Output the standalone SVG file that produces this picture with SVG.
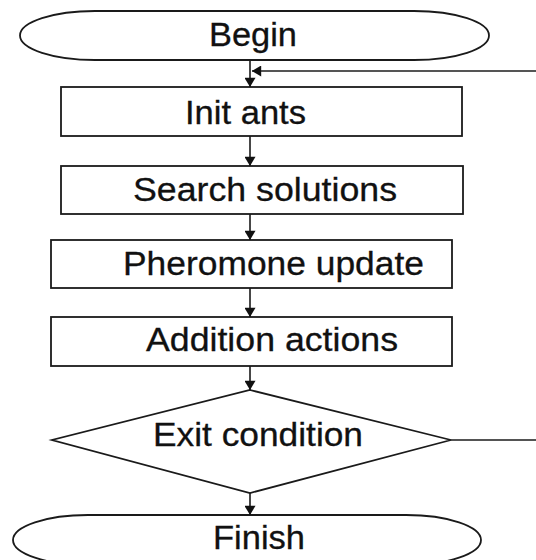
<svg xmlns="http://www.w3.org/2000/svg" width="536" height="560" viewBox="0 0 536 560">
<defs>
<style>
.s{fill:#fff;stroke:#1a1a1a;stroke-width:1.8}
.t{font-family:"Liberation Sans",Arial,sans-serif;font-size:33px;fill:#111;text-anchor:middle;stroke:#111;stroke-width:0.3}
.c{fill:none;stroke:#1a1a1a;stroke-width:1.6}
</style>
<marker id="ah" viewBox="0 0 10 12" refX="10" refY="6" markerWidth="11" markerHeight="11" markerUnits="userSpaceOnUse" orient="auto">
<path d="M0,0 L10,6 L0,12 Z" fill="#111"/>
</marker>
</defs>
<rect width="536" height="560" fill="#fff"/>
<g id="begin">
<path class="s" d="M95,11 H414 A75,24.5 0 0 1 414,60 H95 A75,24.5 0 0 1 95,11 Z"/>
<text class="t" x="253" y="46" textLength="88" lengthAdjust="spacingAndGlyphs">Begin</text>
</g>
<g id="init">
<rect class="s" x="61" y="87" width="401" height="49"/>
<text class="t" x="245.5" y="124" textLength="121" lengthAdjust="spacingAndGlyphs">Init ants</text>
</g>
<g id="search">
<rect class="s" x="61" y="166" width="402" height="48"/>
<text class="t" x="265" y="201" textLength="264" lengthAdjust="spacingAndGlyphs">Search solutions</text>
</g>
<g id="pheromone">
<rect class="s" x="51" y="240" width="401" height="48"/>
<text class="t" x="273.5" y="275" textLength="301" lengthAdjust="spacingAndGlyphs">Pheromone update</text>
</g>
<g id="addition">
<rect class="s" x="51" y="317" width="401" height="49"/>
<text class="t" x="272" y="351" textLength="252" lengthAdjust="spacingAndGlyphs">Addition actions</text>
</g>
<g id="exit">
<polygon class="s" points="250,390 451,440 250,493 52,440"/>
<text class="t" x="258" y="446" textLength="210" lengthAdjust="spacingAndGlyphs">Exit condition</text>
</g>
<g id="finish">
<path class="s" d="M88,515 H406 A75,25 0 0 1 406,565 H88 A75,25 0 0 1 88,515 Z"/>
<text class="t" x="259" y="549" textLength="92" lengthAdjust="spacingAndGlyphs">Finish</text>
</g>
<g id="connectors">
<line class="c" x1="250" y1="60" x2="250" y2="87" marker-end="url(#ah)"/>
<line class="c" x1="250" y1="136" x2="250" y2="166" marker-end="url(#ah)"/>
<line class="c" x1="250" y1="214" x2="250" y2="240" marker-end="url(#ah)"/>
<line class="c" x1="250" y1="288" x2="250" y2="317" marker-end="url(#ah)"/>
<line class="c" x1="250" y1="366" x2="250" y2="390" marker-end="url(#ah)"/>
<line class="c" x1="250" y1="493" x2="250" y2="515" marker-end="url(#ah)"/>
<line x1="536" y1="71" x2="252" y2="71" stroke="#555" stroke-width="2" marker-end="url(#ah)"/>
<line class="c" x1="451" y1="440" x2="536" y2="440"/>
</g>
</svg>
